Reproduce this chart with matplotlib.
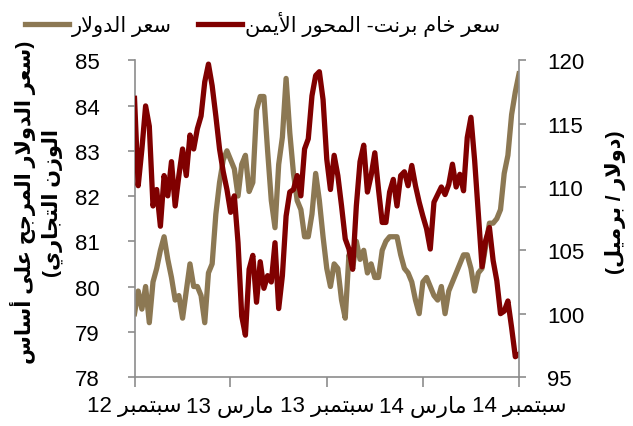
import re
import pandas as pd
import matplotlib
matplotlib.use("Agg")
import matplotlib.pyplot as plt

plt.rcParams['font.family'] = ['Liberation Sans', 'DejaVu Sans']

# weekly readings, Sep 2012 - Sep 2014
brent = [117.0, 110.1, 113.0, 116.4, 114.8, 108.5, 109.8, 106.9, 110.9, 109.3,
         112.0, 108.5, 110.9, 113.0, 110.9, 114.1, 113.0, 114.6, 115.6, 118.3,
         119.7, 118.0, 115.6, 113.0, 111.2, 109.8, 108.0, 109.3, 105.6, 99.8,
         98.3, 103.5, 104.6, 100.9, 104.1, 102.0, 103.0, 102.5, 105.6, 100.4,
         103.0, 107.7, 109.6, 109.8, 110.9, 109.3, 113.0, 113.8, 117.2, 118.8,
         119.1, 116.9, 112.2, 109.8, 112.5, 110.9, 108.5, 105.9, 105.1, 103.5,
         108.5, 112.0, 113.3, 109.6, 110.9, 112.7, 109.8, 107.2, 107.2, 109.6,
         110.6, 108.5, 110.9, 111.2, 110.1, 111.7, 110.1, 108.8, 107.7, 106.7,
         105.1, 108.8, 109.4, 110.0, 109.4, 110.2, 111.8, 110.0, 111.0, 109.7,
         113.9, 115.5, 112.1, 107.9, 103.7, 105.8, 106.8, 104.2, 102.6, 100.0,
         100.2, 101.0, 98.9, 96.6, 96.8]

dollar = [79.4, 79.9, 79.5, 80.0, 79.2, 80.1, 80.4, 80.8, 81.1, 80.6,
          80.2, 79.7, 79.8, 79.3, 79.9, 80.5, 80.0, 80.0, 79.8, 79.2,
          80.3, 80.5, 81.6, 82.3, 82.8, 83.0, 82.8, 82.6, 82.0, 82.7,
          82.9, 82.1, 82.3, 83.9, 84.2, 84.2, 83.0, 81.9, 81.3, 82.7,
          83.3, 84.6, 83.4, 82.5, 81.9, 81.7, 81.1, 81.1, 81.6, 82.5,
          81.9, 81.1, 80.4, 80.0, 80.5, 80.4, 79.7, 79.3, 80.7, 80.4,
          81.0, 80.6, 80.8, 80.3, 80.5, 80.2, 80.2, 80.8, 81.0, 81.1,
          81.1, 81.1, 80.7, 80.4, 80.3, 80.1, 79.7, 79.4, 80.1, 80.2,
          80.0, 79.8, 79.7, 80.0, 79.4, 79.9, 80.1, 80.3, 80.5, 80.7,
          80.7, 80.4, 79.9, 80.3, 80.4, 80.9, 81.4, 81.4, 81.5, 81.7,
          82.5, 82.9, 83.8, 84.3, 84.7]

dates = pd.date_range('2012-09-07', periods=len(brent), freq='7D')
tick_dates = pd.to_datetime(['2012-09-07', '2013-03-07', '2013-09-07',
                             '2014-03-07', '2014-09-05'])
tick_labels = ['سبتمبر 12', 'مارس 13', 'سبتمبر 13', 'مارس 14', 'سبتمبر 14']

# simple arabic shaping + visual ordering (matplotlib has no bidi)
FORMS = {
    'ا': (0xFE8D, 0xFE8E, None, None), 'أ': (0xFE83, 0xFE84, None, None),
    'ب': (0xFE8F, 0xFE90, 0xFE91, 0xFE92), 'ت': (0xFE95, 0xFE96, 0xFE97, 0xFE98),
    'ج': (0xFE9D, 0xFE9E, 0xFE9F, 0xFEA0), 'ح': (0xFEA1, 0xFEA2, 0xFEA3, 0xFEA4),
    'خ': (0xFEA5, 0xFEA6, 0xFEA7, 0xFEA8), 'د': (0xFEA9, 0xFEAA, None, None),
    'ر': (0xFEAD, 0xFEAE, None, None), 'ز': (0xFEAF, 0xFEB0, None, None),
    'س': (0xFEB1, 0xFEB2, 0xFEB3, 0xFEB4), 'ع': (0xFEC9, 0xFECA, 0xFECB, 0xFECC),
    'ل': (0xFEDD, 0xFEDE, 0xFEDF, 0xFEE0), 'م': (0xFEE1, 0xFEE2, 0xFEE3, 0xFEE4),
    'ن': (0xFEE5, 0xFEE6, 0xFEE7, 0xFEE8), 'و': (0xFEED, 0xFEEE, None, None),
    'ى': (0xFEEF, 0xFEF0, None, None), 'ي': (0xFEF1, 0xFEF2, 0xFEF3, 0xFEF4),
}
LAM_ALEF = {'ا': (0xFEFB, 0xFEFC), 'أ': (0xFEF7, 0xFEF8)}
MIRROR = {'(': ')', ')': '('}


def shape(s):
    out = []
    i = 0
    while i < len(s):
        c = s[i]
        if c not in FORMS:
            out.append(c)
            i += 1
            continue
        prev = s[i - 1] if i > 0 else ''
        jp = prev in FORMS and FORMS[prev][2] is not None
        if c == 'ل' and i + 1 < len(s) and s[i + 1] in LAM_ALEF:
            iso, fin = LAM_ALEF[s[i + 1]]
            out.append(chr(fin if jp else iso))
            i += 2
            continue
        nxt = s[i + 1] if i + 1 < len(s) else ''
        jn = FORMS[c][2] is not None and nxt in FORMS
        iso, fin, ini, med = FORMS[c]
        g = med if (jp and jn) else fin if jp else ini if jn else iso
        out.append(chr(g))
        i += 1
    return ''.join(out)


def rtl(s):
    toks = re.findall(r'[0-9]+|.', shape(s))
    return ''.join(MIRROR.get(t, t) for t in reversed(toks))


tan = '#8C7853'
red = '#800000'
grey = '#8C8C8C'

fig = plt.figure(figsize=(6.33, 4.27), dpi=100)
ax = fig.add_axes([0.2125, 0.1148, 0.6074, 0.7416])
ax2 = ax.twinx()

l1, = ax.plot(dates, dollar, color=tan, lw=3.8, solid_joinstyle='round')
l2, = ax2.plot(dates, brent, color=red, lw=3.8, solid_joinstyle='round')

ax.set_ylim(78, 85)
ax2.set_ylim(95, 120)
ax.set_xlim(dates[0], dates[-1])
ax.set_yticks(range(78, 86))
ax2.set_yticks(range(95, 121, 5))
ax.set_xticks(tick_dates)
ax.set_xticklabels([rtl(t) for t in tick_labels])

for a in (ax, ax2):
    a.spines['top'].set_visible(False)
    for s in ('left', 'right', 'bottom'):
        a.spines[s].set_color(grey)
        a.spines[s].set_linewidth(1.2)
ax.spines['right'].set_visible(False)
ax2.spines['left'].set_visible(False)
ax2.spines['bottom'].set_visible(False)

ax.tick_params(axis='y', length=5, width=1.2, color=grey, pad=20, labelsize=16)
ax2.tick_params(axis='y', length=5, width=1.2, color=grey, pad=15, labelsize=16)
ax.tick_params(axis='x', length=7, width=1.2, color=grey, pad=6, labelsize=16)

fig.text(0.058, 0.525,
         rtl('(سعر الدولار المرجح على أساس') + '\n' + rtl('الوزن التجاري)'),
         rotation=90, ha='center', va='center', multialignment='center',
         fontsize=15, fontweight='bold', linespacing=1.35)
fig.text(0.9716, 0.527, rtl('(دولار / برميل)'), rotation=90,
         ha='center', va='center', fontsize=15, fontweight='bold')

fig.legend([l1, l2], [rtl('سعر الدولار'), rtl('سعر خام برنت- المحور الأيمن')],
           loc='upper left', bbox_to_anchor=(0.04, 0.972), ncol=2,
           frameon=False, fontsize=15, handlelength=2.1, handletextpad=0.15,
           columnspacing=1.25, borderpad=0, borderaxespad=0)

fig.savefig('out.png', dpi=100)
